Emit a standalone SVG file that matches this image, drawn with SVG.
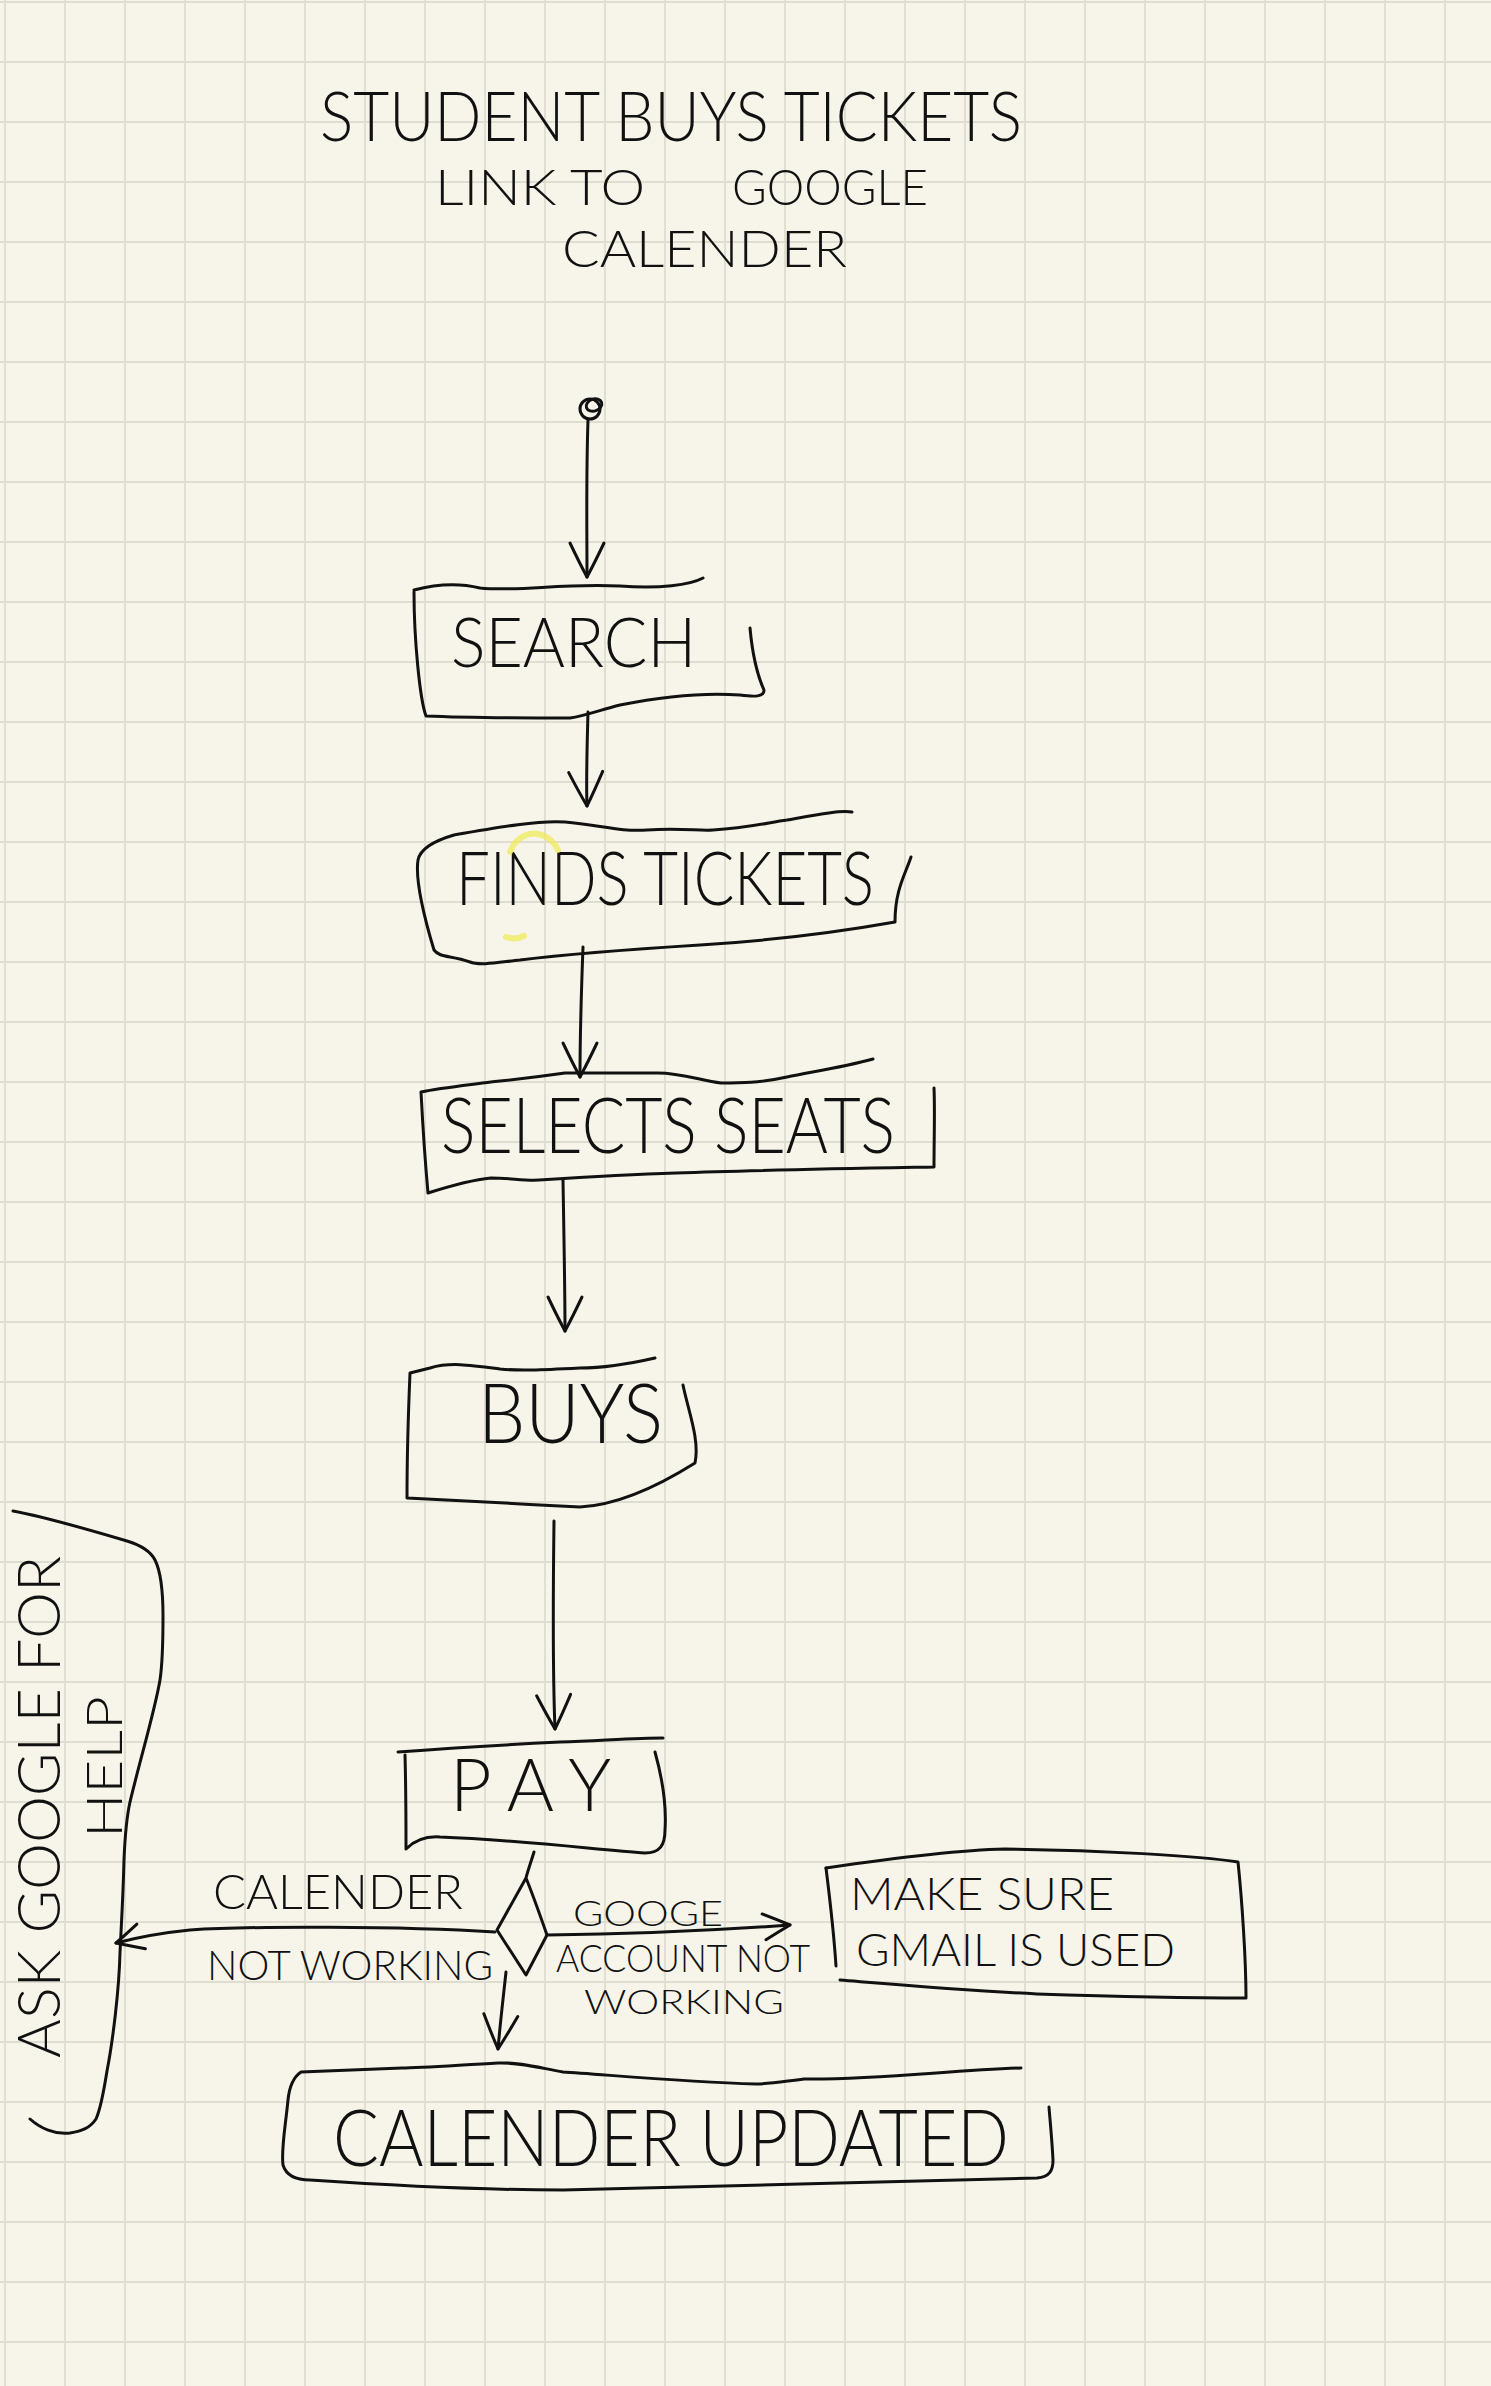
<svg xmlns="http://www.w3.org/2000/svg" width="1491" height="2386" viewBox="0 0 1491 2386">
<defs>
<style>
.ink{fill:none;stroke:#111;stroke-width:3;stroke-linecap:round;stroke-linejoin:round}
.t{font-family:Lato,"Liberation Sans",sans-serif;font-weight:300;fill:#111}
.hl{fill:none;stroke:#efe95a;stroke-width:6;stroke-linecap:round;opacity:0.75}
</style>
<pattern id="grid" patternUnits="userSpaceOnUse" x="-25" y="-28" width="60" height="60">
<rect width="60" height="60" fill="#f7f5e9"/>
<path d="M30,0 V60 M0,30 H60" stroke="#dfdcd0" stroke-width="1.8" fill="none"/>
</pattern>
<marker id="arrow" viewBox="0 0 40 40" markerWidth="40" markerHeight="40" refX="37" refY="20" orient="auto" markerUnits="userSpaceOnUse">
<path d="M3,3 Q22,12 37,20 Q22,28 3,37" fill="none" stroke="#111" stroke-width="3" stroke-linecap="round" stroke-linejoin="round"/>
</marker>
<marker id="arrow-sm" viewBox="0 0 32 32" markerWidth="32" markerHeight="32" refX="30" refY="16" orient="auto" markerUnits="userSpaceOnUse">
<path d="M3,3 Q18,10 30,16 Q18,22 5,29" fill="none" stroke="#111" stroke-width="3" stroke-linecap="round" stroke-linejoin="round"/>
</marker>
</defs>
<rect width="1491" height="2386" fill="url(#grid)"/>

<g id="title">
<text class="t" x="320" y="141" font-size="68" textLength="702" lengthAdjust="spacingAndGlyphs">STUDENT BUYS TICKETS</text>
<text class="t" y="205" font-size="50"><tspan x="435" textLength="210" lengthAdjust="spacingAndGlyphs">LINK TO</tspan><tspan x="732" textLength="196" lengthAdjust="spacingAndGlyphs">GOOGLE</tspan></text>
<text class="t" x="562" y="267" font-size="52" textLength="285" lengthAdjust="spacingAndGlyphs">CALENDER</text>
</g>

<g id="connectors">
<path class="ink" d="M588,420 C586,480 587,530 587,577" marker-end="url(#arrow)"/>
<path class="ink" d="M588,712 C587,750 586,780 587,806" marker-end="url(#arrow)"/>
<path class="ink" d="M583,947 C581,1000 580,1040 580,1077" marker-end="url(#arrow)"/>
<path class="ink" d="M563,1180 C564,1240 565,1290 565,1331" marker-end="url(#arrow)"/>
<path class="ink" d="M554,1521 C553,1600 553,1680 555,1729" marker-end="url(#arrow)"/>
<path class="ink" d="M506,1972 C503,2000 500,2025 498,2049" marker-end="url(#arrow)"/>
<path class="ink" d="M495,1932 C400,1926 250,1926 190,1930 C160,1933 135,1938 116,1943" marker-end="url(#arrow-sm)"/>
<path class="ink" d="M547,1935 C650,1934 720,1930 790,1925" marker-end="url(#arrow-sm)"/>
<text class="t" x="213" y="1909" font-size="48" textLength="250" lengthAdjust="spacingAndGlyphs">CALENDER</text>
<text class="t" x="207" y="1980" font-size="42" textLength="286" lengthAdjust="spacingAndGlyphs">NOT WORKING</text>
<text class="t" x="573" y="1926" font-size="35" textLength="150" lengthAdjust="spacingAndGlyphs">GOOGE</text>
<text class="t" x="556" y="1972" font-size="38" textLength="254" lengthAdjust="spacingAndGlyphs">ACCOUNT NOT</text>
<text class="t" x="584" y="2014" font-size="34" textLength="200" lengthAdjust="spacingAndGlyphs">WORKING</text>
</g>

<g id="start">
<circle class="ink" cx="590" cy="409" r="10"/>
<ellipse class="ink" cx="594" cy="405" rx="8" ry="6" transform="rotate(-20 594 405)"/>
</g>

<g id="search">
<path class="ink" d="M414,590 C440,583 460,583 480,588 C520,592 560,583 620,586 C660,589 690,585 703,578"/>
<path class="ink" d="M750,628 C752,650 755,670 764,690 C764,697 755,697 740,695 C700,692 660,697 620,705 C600,710 585,716 570,718 C520,718 470,718 426,716 C420,700 414,640 414,592"/>
<text class="t" x="451" y="667" font-size="68" textLength="245" lengthAdjust="spacingAndGlyphs">SEARCH</text>
</g>

<g id="finds-tickets">
<path class="ink" d="M911,857 C905,875 895,890 895,922 C850,930 780,940 700,945 C620,950 560,955 520,960 C500,962 480,966 470,962 C450,955 440,958 434,950 C425,920 415,880 418,860 C420,850 430,842 454,835 C500,827 540,820 565,822 C600,825 620,832 647,830 C680,828 700,831 713,830 C750,828 770,822 787,820 C815,815 840,810 852,812"/>
<text class="t" x="456" y="905" font-size="75" textLength="418" lengthAdjust="spacingAndGlyphs">FINDS TICKETS</text>
<path class="hl" d="M510,852 C515,838 528,832 538,834 C548,836 555,843 558,850"/>
<path class="hl" d="M506,937 C512,939 518,939 524,936"/>
</g>

<g id="selects-seats">
<path class="ink" d="M873,1059 C840,1068 810,1072 787,1077 C760,1083 740,1083 721,1083 C700,1080 680,1073 658,1073 C620,1073 590,1073 565,1073 C530,1078 510,1080 491,1082 C460,1086 440,1088 421,1092 C423,1130 425,1160 428,1193 C450,1186 470,1180 491,1178 C510,1178 525,1181 539,1180 C600,1176 640,1174 676,1173 C760,1170 880,1168 934,1167 C934,1140 935,1110 934,1088"/>
<text class="t" x="441" y="1153" font-size="76" textLength="454" lengthAdjust="spacingAndGlyphs">SELECTS SEATS</text>
</g>

<g id="buys">
<path class="ink" d="M655,1358 C620,1366 600,1368 580,1368 C540,1370 520,1371 500,1369 C470,1365 450,1362 430,1368 L410,1373 C408,1420 407,1460 407,1498 C450,1500 520,1504 580,1507 C620,1505 660,1485 695,1463 C700,1440 688,1410 683,1385"/>
<text class="t" x="478" y="1443" font-size="82" textLength="185" lengthAdjust="spacingAndGlyphs">BUYS</text>
</g>

<g id="pay">
<path class="ink" d="M398,1752 C450,1748 520,1744 560,1742 C610,1740 640,1738 663,1738"/>
<path class="ink" d="M405,1755 C406,1790 406,1820 406,1849 C415,1840 425,1836 440,1837 C520,1840 600,1850 645,1853 C660,1853 665,1845 665,1830 C667,1800 660,1770 655,1752"/>
<text class="t" x="450" y="1811" font-size="72" textLength="161" lengthAdjust="spacing">PAY</text>
</g>

<g id="decision">
<path class="ink" d="M534,1852 C531,1862 528,1870 526,1878 L497,1930 L526,1975 L547,1935 C540,1915 533,1895 526,1878"/>
</g>

<g id="make-sure">
<path class="ink" d="M826,1868 C830,1900 834,1935 836,1966"/>
<path class="ink" d="M826,1868 C880,1860 960,1850 1005,1849 C1100,1850 1200,1856 1238,1862 C1242,1900 1246,1960 1246,1998 C1180,1998 1100,1996 1037,1994 C960,1990 890,1984 840,1980"/>
<text class="t" x="850" y="1910" font-size="46" textLength="264" lengthAdjust="spacingAndGlyphs">MAKE SURE</text>
<text class="t" x="856" y="1966" font-size="46" textLength="319" lengthAdjust="spacingAndGlyphs">GMAIL IS USED</text>
</g>

<g id="calender-updated">
<path class="ink" d="M1021,2068 C950,2070 880,2080 804,2079 C780,2082 770,2084 756,2084 C680,2082 600,2074 563,2072 C540,2068 520,2062 498,2063 C460,2065 420,2068 402,2068 L301,2072 C292,2078 289,2090 288,2100 C285,2130 281,2150 283,2165 C287,2178 300,2180 310,2180 C400,2186 480,2190 563,2190 C700,2188 900,2180 1037,2178 C1050,2177 1053,2170 1053,2160 C1052,2140 1050,2120 1049,2107"/>
<text class="t" x="333" y="2166" font-size="78" textLength="676" lengthAdjust="spacingAndGlyphs">CALENDER UPDATED</text>
</g>

<g id="ask-google">
<path class="ink" d="M13,1511 C40,1516 90,1530 127,1541 C140,1545 150,1550 155,1560 C160,1570 163,1590 163,1616 C163,1640 163,1660 160,1680 C155,1710 140,1760 130,1802 C126,1820 125,1835 124,1860 C123,1900 121,1930 120,1953 C119,1990 113,2040 107,2071 C104,2090 101,2108 96,2119 C90,2128 82,2131 70,2133 C55,2135 40,2128 30,2119"/>
<text class="t" font-size="60" transform="translate(60,2058) rotate(-90)" textLength="502" lengthAdjust="spacingAndGlyphs">ASK GOOGLE FOR</text>
<text class="t" font-size="50" transform="translate(122,1838) rotate(-90)" textLength="142" lengthAdjust="spacingAndGlyphs">HELP</text>
</g>
</svg>
